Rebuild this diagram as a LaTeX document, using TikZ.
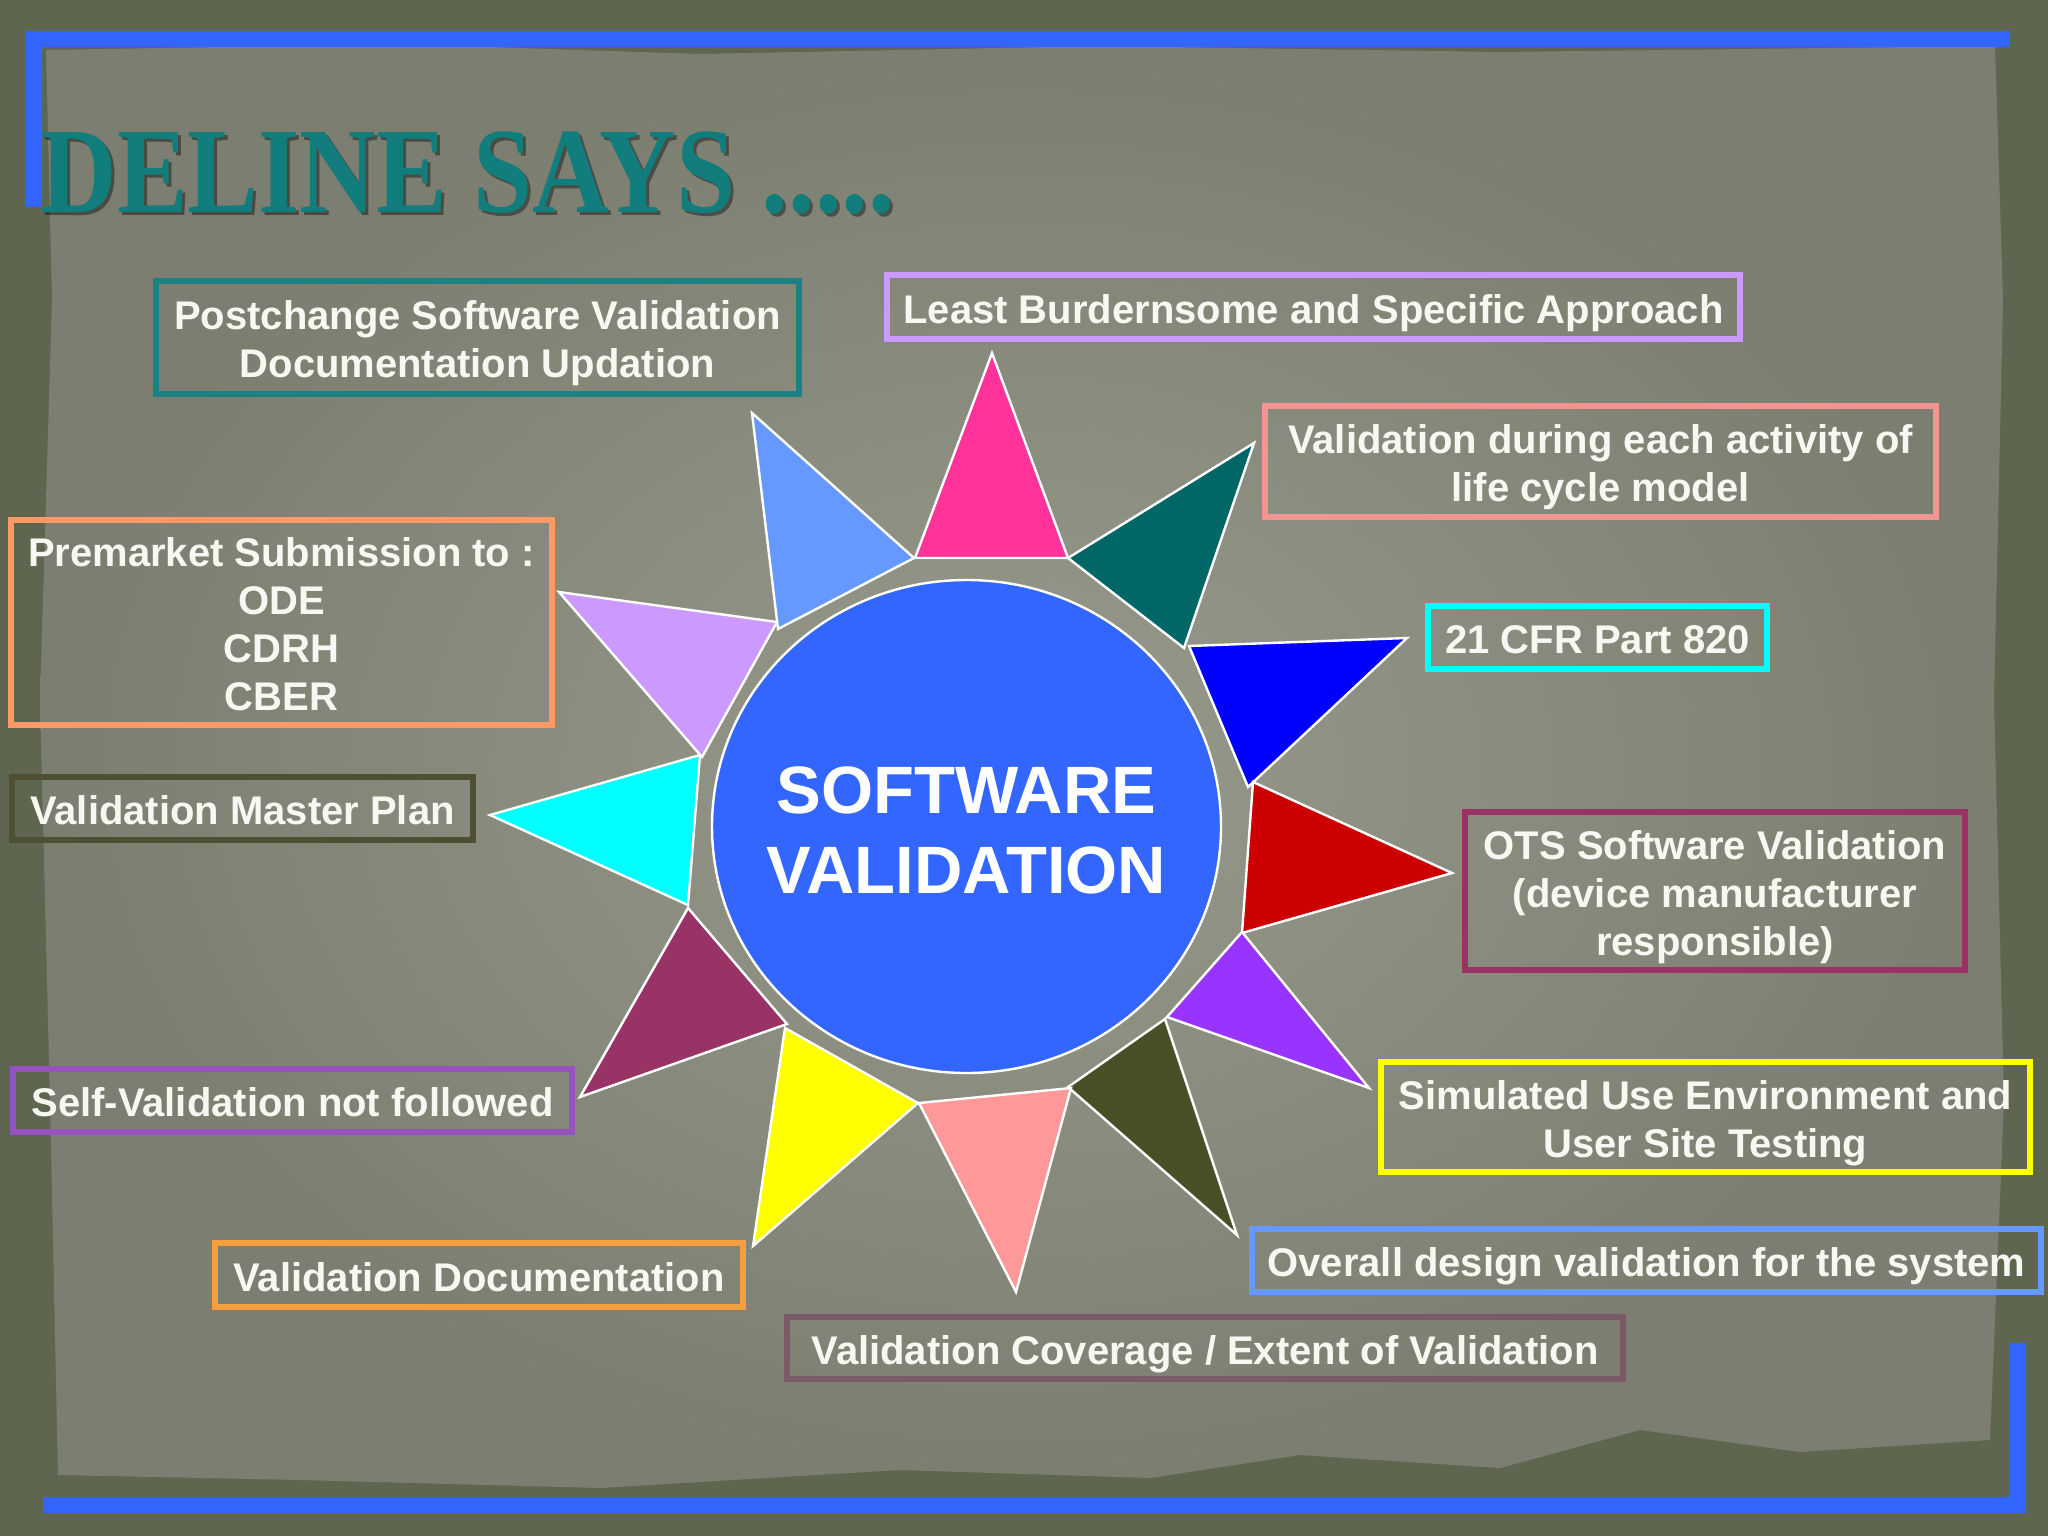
\documentclass[tikz,border=0pt]{standalone}
\usepackage{fontspec}
\usepackage{graphicx}
\setmainfont{Liberation Sans}
\newfontfamily\titlefont{Liberation Serif}

\definecolor{edgeolive}{HTML}{5E6650}
\definecolor{paper}{HTML}{898C7C}
\definecolor{frameblue}{HTML}{3366FF}
\definecolor{titleteal}{HTML}{117D7C}
\definecolor{txtwhite}{HTML}{F8F8F2}
\definecolor{circblue}{HTML}{3366FF}
% petal colours
\definecolor{pPink}{HTML}{FF3399}
\definecolor{pTeal}{HTML}{006666}
\definecolor{pBlue}{HTML}{0000FF}
\definecolor{pRed}{HTML}{CC0000}
\definecolor{pPurple}{HTML}{9933FF}
\definecolor{pOlive}{HTML}{4A4F28}
\definecolor{pRose}{HTML}{FF9999}
\definecolor{pYellow}{HTML}{FFFF00}
\definecolor{pMaroon}{HTML}{993366}
\definecolor{pCyan}{HTML}{00FFFF}
\definecolor{pLilac}{HTML}{CC99FF}
\definecolor{pSky}{HTML}{6699FF}
% box borders
\definecolor{bTeal}{HTML}{1A8282}
\definecolor{bSalmon}{HTML}{F29490}
\definecolor{bOrange}{HTML}{FF9966}
\definecolor{bAmber}{HTML}{F4A040}
\definecolor{bMauve}{HTML}{7A5A66}
\definecolor{bViolet}{HTML}{9652BE}
\definecolor{bOlive}{HTML}{4D5033}

% struts that fix the height of the first and depth of the last line
\newcommand{\boxtop}{\rule{0pt}{20.8pt}}
\newcommand{\boxbot}{\rule[-4.5pt]{0pt}{4.5pt}}

\begin{document}
\begin{tikzpicture}[x=0.5pt,y=-0.5pt,
  box/.style={draw,line width=3pt,inner sep=0pt,align=center,text=txtwhite,
    font=\bfseries\fontsize{20}{24}\selectfont},
  petal/.style={draw=white,line width=1.2pt,line join=miter}]
\useasboundingbox (0,0) rectangle (2048,1536);

% background and paper
\fill[edgeolive] (0,0) rectangle (2048,1536);
\shade[inner color=paper!88!white,outer color=paper!90!black]
  (46,50) -- (400,44) -- (700,54) -- (1100,46) -- (1500,52) -- (1995,46)
  -- (2003,300) -- (1994,700) -- (2004,1100) -- (1990,1440) -- (1800,1452)
  -- (1640,1430) -- (1500,1468) -- (1300,1455) -- (1150,1478) -- (900,1470)
  -- (600,1488) -- (300,1480) -- (58,1475) -- (50,1100) -- (40,700) -- (52,300) -- cycle;

% title
\node[anchor=base west,inner sep=0pt,text=black,opacity=0.4,
  font=\titlefont\bfseries\fontsize{61}{61}\selectfont] (titleshadow) at (43,215)
  {\scalebox{0.87}[1]{DELINE SAYS .....}};
\node[anchor=base west,inner sep=0pt,text=titleteal,
  font=\titlefont\bfseries\fontsize{61}{61}\selectfont] (title) at (40,212)
  {\scalebox{0.87}[1]{DELINE SAYS .....}};

% frame
\fill[frameblue] (25,31) rectangle (2010,47);
\fill[frameblue] (25,31) rectangle (42,207);
\fill[frameblue] (43,1497) rectangle (2026,1513);
\fill[frameblue] (2009,1343) rectangle (2026,1513);

% petals
\filldraw[petal,fill=pPink]   (992,353) -- (915,558) -- (1068,558) -- cycle;
\filldraw[petal,fill=pTeal]   (1068,558) -- (1254,443) -- (1184,648) -- cycle;
\filldraw[petal,fill=pBlue]   (1189,646) -- (1407,638) -- (1248,787) -- cycle;
\filldraw[petal,fill=pRed]    (1253,782) -- (1452,873) -- (1242,933) -- cycle;
\filldraw[petal,fill=pPurple] (1242,932) -- (1369,1088) -- (1167,1017) -- cycle;
\filldraw[petal,fill=pOlive]  (1165,1019) -- (1237,1235) -- (1068,1087) -- cycle;
\filldraw[petal,fill=pRose]   (1071,1088) -- (1016,1292) -- (919,1103) -- cycle;
\filldraw[petal,fill=pYellow] (918,1103) -- (753,1246) -- (785,1028) -- cycle;
\filldraw[petal,fill=pMaroon] (787,1024) -- (580,1097) -- (688,908) -- cycle;
\filldraw[petal,fill=pCyan]   (688,905) -- (490,815) -- (700,755) -- cycle;
\filldraw[petal,fill=pLilac]  (702,757) -- (559,592) -- (777,622) -- cycle;
\filldraw[petal,fill=pSky]    (778,629) -- (752,413) -- (914,558) -- cycle;

% centre
\filldraw[fill=circblue,draw=white,line width=1.2pt] (966.5,826.5)
  ellipse [x radius=254.5,y radius=246.5];
\node[align=center,text=white,inner sep=0pt,
  font=\bfseries\fontsize{33.5}{40}\selectfont] (sv) at (966.5,830.5)
  {SOFTWARE\\VALIDATION};

% boxes
\node[box,draw=bTeal,minimum width=321.5pt,minimum height=56.5pt] (postchange) at (477.5,337.5)
  {\boxtop Postchange Software Validation\\Documentation Updation\boxbot};
\node[box,draw=pLilac,minimum width=426.5pt,minimum height=32pt] (burden) at (1313.5,307)
  {\boxtop Least Burdernsome and Specific Approach\boxbot};
\node[box,draw=bSalmon,minimum width=335.5pt,minimum height=55.5pt] (lifecycle) at (1600.5,461.5)
  {\boxtop Validation during each activity of\\life cycle model\boxbot};
\node[box,draw=pCyan,minimum width=169.5pt,minimum height=31.5pt] (cfr) at (1597.5,637.5)
  {\boxtop 21 CFR Part 820\boxbot};
\node[box,draw=pMaroon,minimum width=250pt,minimum height=79pt] (ots) at (1715,891)
  {\boxtop OTS Software Validation\\(device manufacturer\\responsible)\boxbot};
\node[box,draw=pYellow,minimum width=324.5pt,minimum height=55pt] (simulated) at (1705.5,1117)
  {\boxtop Simulated Use Environment and\\User Site Testing\boxbot};
\node[box,draw=pSky,minimum width=394.5pt,minimum height=31.5pt] (overall) at (1646.5,1260.5)
  {\boxtop Overall design validation for the system\boxbot};
\node[box,draw=bMauve,minimum width=418pt,minimum height=31pt] (coverage) at (1205,1348)
  {\boxtop Validation Coverage / Extent of Validation\boxbot};
\node[box,draw=bAmber,minimum width=264pt,minimum height=32pt] (documentation) at (479,1275)
  {\boxtop Validation Documentation\boxbot};
\node[box,draw=bViolet,minimum width=279.5pt,minimum height=31.5pt] (selfval) at (292.5,1100.5)
  {\boxtop Self-Validation not followed\boxbot};
\node[box,draw=bOlive,minimum width=230.5pt,minimum height=31.5pt] (vmp) at (242.5,808.5)
  {\boxtop Validation Master Plan\boxbot};
\node[box,draw=bOrange,minimum width=270.5pt,minimum height=102.5pt] (premarket) at (281.5,622.5)
  {\boxtop Premarket Submission to :\\ODE\\CDRH\\CBER\boxbot};

\end{tikzpicture}
\end{document}
